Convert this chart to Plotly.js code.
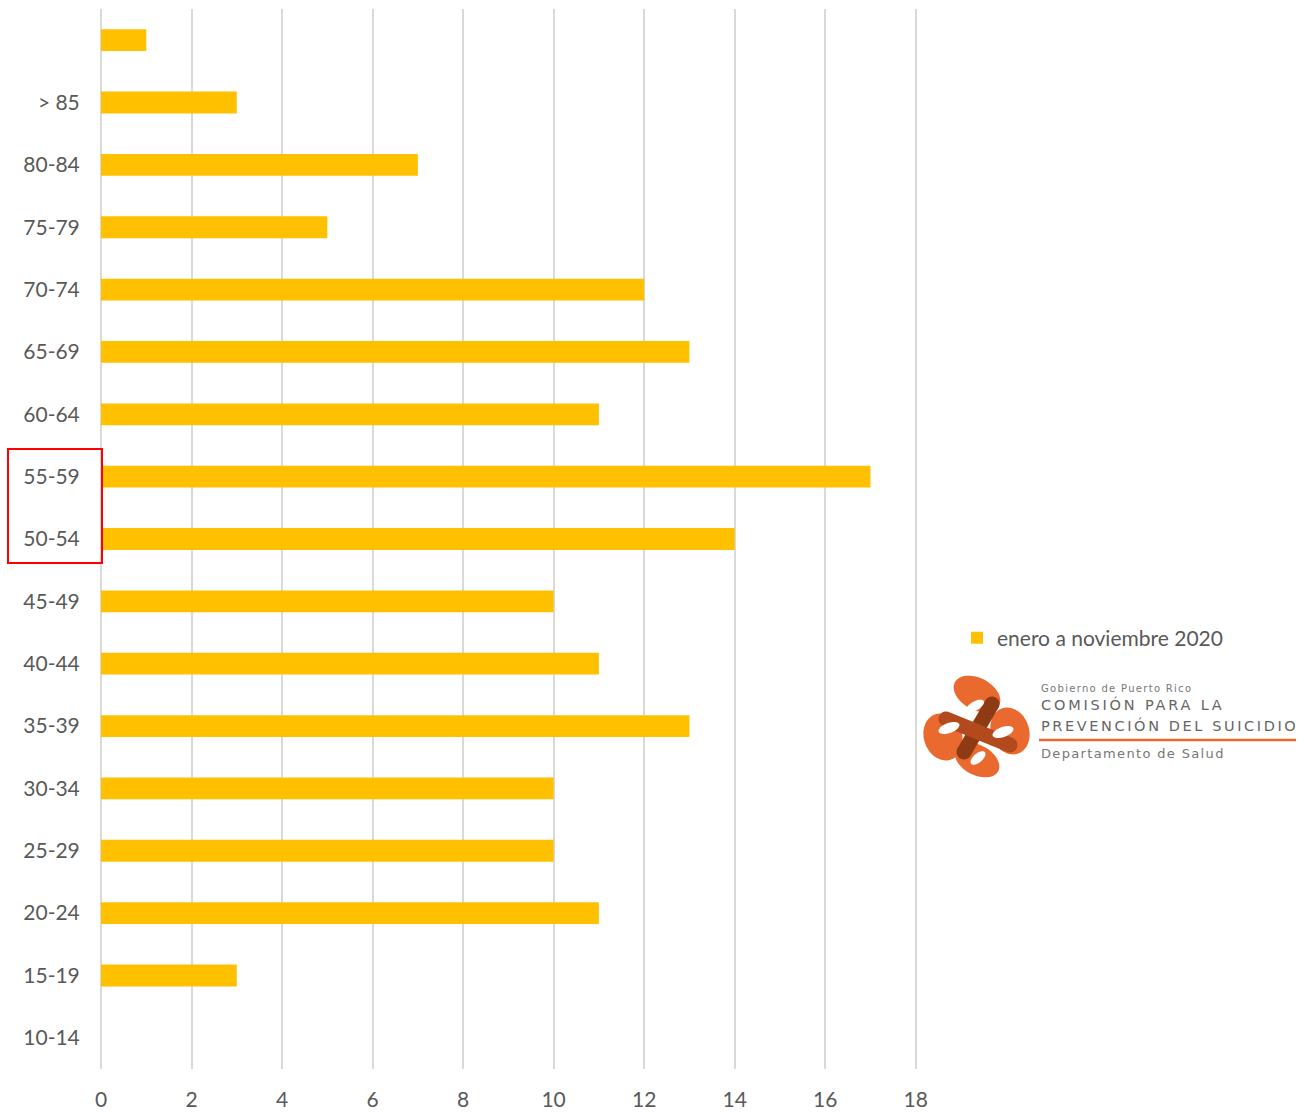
<!DOCTYPE html>
<html>
<head>
<meta charset="utf-8">
<script src="https://cdn.plot.ly/plotly-3.0.1.min.js"></script>
<style>html,body{margin:0;padding:0;background:#fff;}#chart{width:1312px;height:1113px;}</style>
</head>
<body>
<div id="chart"></div>
<script>
// Data (bottom to top)
const ageGroups = ["10-14","15-19","20-24","25-29","30-34","35-39","40-44","45-49","50-54","55-59","60-64","65-69","70-74","75-79","80-84","> 85"," "];
const cases = [0,3,11,10,10,13,11,10,14,17,11,13,12,5,7,3,1];
const seriesName = "enero a noviembre 2020";
const xTicks = [0,2,4,6,8,10,12,14,16,18];
const logoTexts = ["Gobierno de Puerto Rico","COMISIÓN PARA LA","PREVENCIÓN DEL SUICIDIO","Departamento de Salud"];

// Layout geometry (pixels)
const FIG_W = 1312, FIG_H = 1113;
const XMAX = 18.05;
const PW = Math.round(815 / 18 * XMAX);
const M = {l:101, r:FIG_W - 101 - PW, t:9, b:44};
const PH = FIG_H - M.t - M.b;
const px = x => (x - M.l) / PW;
const py = y => 1 - (y - M.t) / PH;

const shapes = [];
const annotations = [];

// Red highlight rectangle around 55-59 / 50-54 labels
shapes.push({type:'rect', xref:'paper', yref:'paper',
  x0:px(8), x1:px(102), y0:py(563), y1:py(449),
  line:{color:'#FF0000', width:2}, fillcolor:'rgba(0,0,0,0)', layer:'above'});

// Logo helpers (decorative drawing)
function ellipsePath(cx, cy, rx, ry, rotDeg){
  const r = rotDeg*Math.PI/180; let d='';
  for(let i=0;i<=48;i++){
    const t = i/48*2*Math.PI;
    const ex = rx*Math.cos(t), ey = ry*Math.sin(t);
    const X = cx + ex*Math.cos(r) - ey*Math.sin(r);
    const Y = cy + ex*Math.sin(r) + ey*Math.cos(r);
    d += (i===0?'M':'L') + px(X).toFixed(5) + ',' + py(Y).toFixed(5);
  }
  return d + 'Z';
}
function capsulePath(x0,y0,x1,y1,w){
  const a = Math.atan2(y1-y0, x1-x0), r = w/2; const pts=[];
  for(let i=0;i<=12;i++){ const t = a + Math.PI/2 + i/12*Math.PI; pts.push([x0 + r*Math.cos(t), y0 + r*Math.sin(t)]); }
  for(let i=0;i<=12;i++){ const t = a - Math.PI/2 + i/12*Math.PI; pts.push([x1 + r*Math.cos(t), y1 + r*Math.sin(t)]); }
  return pts.map((p,i)=>(i===0?'M':'L')+px(p[0]).toFixed(5)+','+py(p[1]).toFixed(5)).join('')+'Z';
}
function addPath(path,color){
  shapes.push({type:'path', xref:'paper', yref:'paper', path:path, fillcolor:color, line:{width:0}, layer:'above'});
}
const OR = '#E9692F', BR = '#B24A1E', BR2 = '#8E3A13', WH = '#FFFFFF';
// orange lobes
addPath(ellipsePath(977,694,25,16,28),OR);    // top
addPath(ellipsePath(1010,731,24,19,70),OR);   // right
addPath(ellipsePath(977,760,24,15,28),OR);    // bottom
addPath(ellipsePath(943,737,24,19,70),OR);    // left
// brown ribbon bands
addPath(capsulePath(992,704,964,752,15),BR2);
addPath(capsulePath(946,719,1010,745,15),BR);
// white holes
addPath(ellipsePath(975,706,10,4.5,-30),WH);
addPath(ellipsePath(1003,732,11,5,-20),WH);
addPath(ellipsePath(978,758,9,4.5,-40),WH);
addPath(ellipsePath(949,728,11,5,-20),WH);
// orange underline in logo text
shapes.push({type:'line', xref:'paper', yref:'paper', x0:px(1039), x1:px(1296), y0:py(740), y1:py(740),
  line:{color:OR, width:2.5}, layer:'above'});

const logoFont = "DejaVu Sans, Open Sans, sans-serif";
const logoSpec = [
  {x:1039, y:688, size:10, color:'#777777', ls:1.3},
  {x:1039, y:704, size:14.5, color:'#666666', ls:2.8},
  {x:1039, y:725, size:14.5, color:'#666666', ls:2.6},
  {x:1039, y:753, size:13, color:'#777777', ls:1.35}
];
logoTexts.forEach((t,i) => {
  const s = logoSpec[i];
  annotations.push({text:t, xref:'paper', yref:'paper', x:px(s.x), y:py(s.y),
    xanchor:'left', yanchor:'middle', showarrow:false,
    font:{family:logoFont, size:s.size, color:s.color}});
});

const trace = {
  type:'bar', orientation:'h', x:cases, y:ageGroups, name:seriesName,
  marker:{color:'#FFC000'}, showlegend:true, hoverinfo:'x+y'
};

const layout = {
  width:FIG_W, height:FIG_H,
  margin:M, paper_bgcolor:'#fff', plot_bgcolor:'#fff',
  font:{family:"Lato, 'Open Sans', sans-serif", color:'#595959', size:21},
  bargap:0.65,
  xaxis:{range:[0,XMAX], tickvals:xTicks, showgrid:true, gridcolor:'#d9d9d9', gridwidth:2,
    zeroline:true, zerolinecolor:'#d9d9d9', zerolinewidth:2, showline:false,
    ticks:'outside', ticklen:12, tickcolor:'rgba(0,0,0,0)',
    tickfont:{size:21, color:'#595959'}, fixedrange:true},
  yaxis:{type:'category', categoryorder:'array', categoryarray:ageGroups,
    range:[-0.5,16.5], showgrid:false, zeroline:false, showline:false,
    ticks:'outside', ticklen:16, tickcolor:'rgba(0,0,0,0)',
    tickfont:{size:21, color:'#595959'}, automargin:false, fixedrange:true},
  showlegend:true,
  legend:{x:px(957), y:py(638), xanchor:'left', yanchor:'middle',
    font:{size:21, color:'#595959'}, bgcolor:'rgba(0,0,0,0)'},
  shapes:shapes, annotations:annotations
};

Plotly.newPlot('chart', [trace], layout, {displayModeBar:false, staticPlot:true}).then(gd => {
  const texts = gd.querySelectorAll('.annotation-text');
  texts.forEach((el, i) => {
    const s = logoSpec[i];
    if (!s) return;
    const before = el.getBoundingClientRect().left;
    el.style.letterSpacing = s.ls + 'px';
    const after = el.getBoundingClientRect().left;
    const shift = before - after;
    el.setAttribute('transform', 'translate(' + shift.toFixed(2) + ',0)');
  });
});
</script>
</body>
</html>
